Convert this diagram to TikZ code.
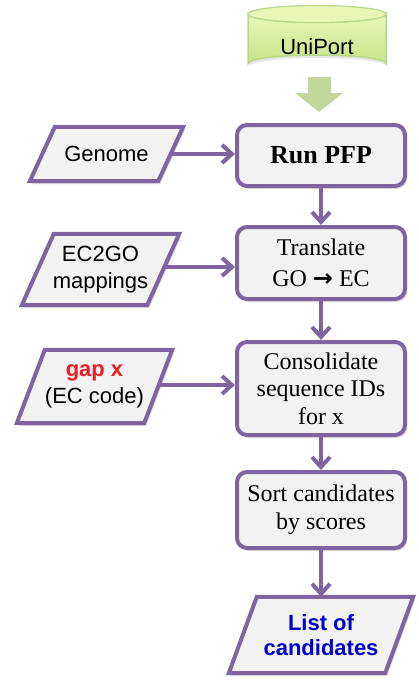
\documentclass[tikz,border=0pt]{standalone}
\usepackage{fontspec}
\setmainfont{Liberation Serif}
\newfontfamily\arialf{Liberation Sans}
\newfontfamily\arrowf{DejaVu Sans}
\usetikzlibrary{arrows.meta,shadows,calc,backgrounds}
\definecolor{purp}{HTML}{8064A2}
\definecolor{boxfill}{HTML}{F2F2F2}
\definecolor{cylfill}{HTML}{E8F6B8}
\definecolor{cylfillb}{HTML}{C8E486}
\definecolor{cylline}{HTML}{B9D88A}
\definecolor{garrow}{HTML}{C3D69B}
\definecolor{gapred}{HTML}{EE1C25}
\definecolor{listblue}{HTML}{0000CC}
\tikzset{
  stepbox/.style={draw=purp, line width=4pt, fill=boxfill, rounded corners=10pt,
    minimum width=168pt, align=center, inner sep=2pt,
    drop shadow={opacity=0.25, shadow xshift=2pt, shadow yshift=-3pt},
    font=\fontsize{24}{27.5}\selectfont},
  paranode/.style={inner sep=0pt, align=center, font=\arialf\fontsize{22}{27}\selectfont},
  parashape/.style={draw=purp, line width=4pt, fill=boxfill, line join=miter,
    drop shadow={opacity=0.25, shadow xshift=2pt, shadow yshift=-3pt}},
  flow/.style={draw=purp, line width=4pt, -{Straight Barb[length=10pt,width=18pt]}},
}
\newcommand\paral[2]{%
  \begin{pgfonlayer}{background}
  \path[parashape] ($(#1.north west)+(#2,0)$) -- ($(#1.north east)+(#2,0)$)
    -- ($(#1.south east)-(#2,0)$) -- ($(#1.south west)-(#2,0)$) -- cycle;
  \end{pgfonlayer}}
\begin{document}
\begin{tikzpicture}[x=1pt,y=-1pt]
\useasboundingbox (0,0) rectangle (419,685);
% cylinder
\shade[top color=cylfill, bottom color=cylfillb, draw=cylline, line width=1.5pt,
  drop shadow={opacity=0.2, shadow xshift=1pt, shadow yshift=-3pt}]
  (248,14) -- (248,63.5) arc[start angle=180, end angle=360, x radius=69, y radius=8.5]
  -- (386,14) arc[start angle=0, end angle=180, x radius=69, y radius=8.5] -- cycle;
\draw[cylline, line width=1.2pt, fill=cylfill] (317,14) ellipse[x radius=69, y radius=8.5];
\node[font=\arialf\fontsize{22}{26}\selectfont] (uni) at (317,47) {UniPort};
% block arrow
\fill[garrow] (308,77) -- (331,77) -- (331,93) -- (343,93) -- (319,112) -- (295,93) -- (308,93) -- cycle;
% boxes
\node[stepbox, minimum height=61pt, font=\fontsize{26}{30}\selectfont] (run) at (321,155.5) {\textbf{Run PFP}};
\node[stepbox, minimum height=72pt] (tr) at (321,263) {Translate\\[4pt]GO {\arrowf\bfseries\fontsize{24}{24}\selectfont →} EC};
\node[stepbox, minimum height=93pt] (con) at (321,388.5) {Consolidate\\sequence IDs\\for x};
\node[stepbox, minimum height=76pt] (sort) at (321,510) {Sort candidates\\by scores};
% parallelograms
\node[paranode, minimum width=128pt, minimum height=54pt] (gen) at (106.5,154) {Genome};
\paral{gen}{12.5}
\node[paranode, minimum width=125pt, minimum height=71pt] (ec) at (100.5,269.5) {EC2GO\\mappings};
\paral{ec}{16}
\node[paranode, minimum width=127pt, minimum height=73pt] (gap) at (94.5,386.5) {\textcolor{gapred}{\bfseries gap x}\\(EC code)};
\paral{gap}{14}
\node[paranode, minimum width=156pt, minimum height=76pt, font=\arialf\bfseries\fontsize{22}{25}\selectfont, text=listblue] (list) at (321,635) {List of\\candidates};
\paral{list}{14}
% connectors
\draw[flow] (gen.east) -- (run.west |- gen.east);
\draw[flow] (ec.east |- 0,267) -- (tr.west |- 0,267);
\draw[flow] (gap.east |- 0,385) -- (con.west |- 0,385);
\draw[flow] (run.south) -- (tr.north);
\draw[flow] (tr.south) -- (con.north);
\draw[flow] (con.south) -- (sort.north);
\draw[flow] (sort.south) -- (list.north);
\end{tikzpicture}
\end{document}
